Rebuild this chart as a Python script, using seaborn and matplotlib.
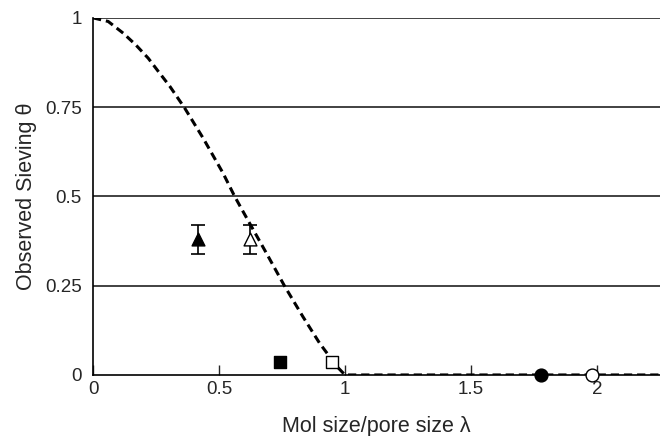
import numpy as np
import pandas as pd
import matplotlib
matplotlib.use("Agg")
import matplotlib.pyplot as plt
import seaborn as sb

# theoretical sieving curve
curve_lam = [0.0, 0.06, 0.12, 0.17, 0.219, 0.259, 0.305, 0.364, 0.437, 0.516, 0.562,
             0.595, 0.622, 0.688, 0.760, 0.833, 0.899, 0.939, 0.97, 1.0, 1.5, 2.0, 2.25]
curve_theta = [1.0, 0.99, 0.957, 0.924, 0.887, 0.85, 0.808, 0.747, 0.663, 0.565, 0.50,
               0.458, 0.424, 0.341, 0.249, 0.163, 0.089, 0.051, 0.022, 0.0, 0.0, 0.0, 0.0]

# measured points
pt_lam = [0.416, 0.622, 0.743, 0.949, 1.778, 1.98]
pt_theta = [0.38, 0.38, 0.036, 0.036, 0.0, 0.0]
pt_err = [0.04, 0.04, 0, 0, 0, 0]
pt_marker = ["^", "^", "s", "s", "o", "o"]
pt_fill = ["black", "white", "black", "white", "black", "white"]

sb.set_style("white")
plt.rcParams["font.family"] = ["Liberation Sans", "DejaVu Sans"]

fig = plt.figure(figsize=(6.6, 4.36), dpi=100)
ax = fig.add_axes([0.141, 0.140, 0.859, 0.819])

for y in [0.25, 0.5, 0.75, 1.0]:
    ax.axhline(y, color="#333333", lw=1.3, zorder=1)

df = pd.DataFrame({"lam": curve_lam, "theta": curve_theta})
sb.lineplot(data=df, x="lam", y="theta", color="black", lw=2.2, ax=ax, zorder=3)
ax.lines[-1].set_dashes([2.7, 1.6])

for i in range(len(pt_lam)):
    if pt_err[i] > 0:
        ax.errorbar(pt_lam[i], pt_theta[i], yerr=pt_err[i], fmt="none", ecolor="black",
                    elinewidth=1.2, capsize=5, capthick=1.2, zorder=4)
    ax.scatter(pt_lam[i], pt_theta[i], marker=pt_marker[i], s=85, facecolor=pt_fill[i],
               edgecolor="black", linewidth=1, zorder=5, clip_on=False)

ax.set_xlim(0, 2.25)
ax.set_ylim(0, 1)
ax.set_xticks([0, 0.5, 1, 1.5, 2])
ax.set_xticklabels(["0", "0.5", "1", "1.5", "2"])
ax.set_yticks([0, 0.25, 0.5, 0.75, 1])
ax.set_yticklabels(["0", "0.25", "0.5", "0.75", "1"])
ax.tick_params(axis="x", direction="in", length=7, width=1, labelsize=13.5, pad=4, bottom=True)
ax.tick_params(axis="y", length=0, labelsize=13.5, pad=8)

for s in ["top", "right"]:
    ax.spines[s].set_visible(False)
for s in ["left", "bottom"]:
    ax.spines[s].set_color("black")
    ax.spines[s].set_linewidth(1.2)

ax.set_xlabel("Mol size/pore size λ", fontsize=15.5, labelpad=13)
ax.set_ylabel("Observed Sieving θ", fontsize=15.5, labelpad=6)

fig.savefig("out.png", dpi=100)
